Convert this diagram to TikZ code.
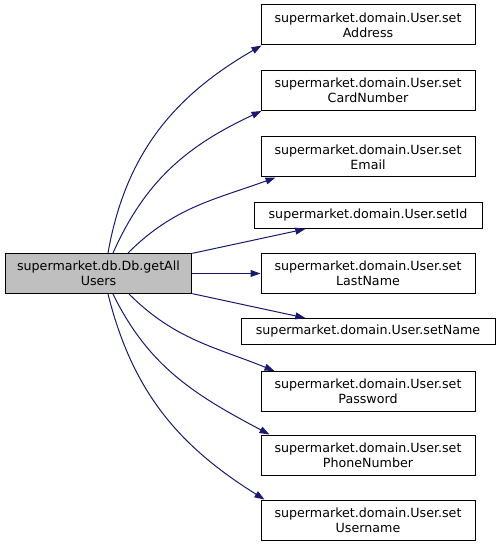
\documentclass[tikz,border=0pt]{standalone}
\usepackage{fontspec}
\setmainfont{DejaVu Sans}
\usetikzlibrary{arrows.meta,calc}
\definecolor{edgeblue}{HTML}{191970}
\definecolor{mainfill}{HTML}{BFBFBF}

\begin{document}
\begin{tikzpicture}[x=0.75pt, y=0.75pt,
  fn/.style={draw=black, line width=0.75pt, fill=white, align=center, inner sep=0pt,
    minimum height=30pt, font=\fontsize{9.5}{11.25}\selectfont},
  fnone/.style={fn, minimum height=19.5pt},
  edge/.style={draw=edgeblue, line width=0.75pt, -{Triangle[length=7.5pt,width=5.2pt]}}]
\useasboundingbox (0,0) rectangle (500,-548);
\node[fn, fill=mainfill, minimum width=140pt] (getall) at (98.5,-273.5) {supermarket.db.Db.getAll\\Users};
\node[fn, minimum width=160.5pt] (addr) at (368,-25) {supermarket.domain.User.set\\Address};
\node[fn, minimum width=160.5pt] (card) at (368,-90.5) {supermarket.domain.User.set\\CardNumber};
\node[fn, minimum width=160.5pt] (email) at (368,-157) {supermarket.domain.User.set\\Email};
\node[fnone, minimum width=171pt] (setid) at (368,-215.5) {supermarket.domain.User.setId};
\node[fn, minimum width=160.5pt] (lastname) at (368,-273.5) {supermarket.domain.User.set\\LastName};
\node[fnone, minimum width=190.5pt] (setname) at (368,-331.5) {supermarket.domain.User.setName};
\node[fn, minimum width=160.5pt] (password) at (368,-391.5) {supermarket.domain.User.set\\Password};
\node[fn, minimum width=160.5pt] (phone) at (368,-455) {supermarket.domain.User.set\\PhoneNumber};
\node[fn, minimum width=160.5pt] (username) at (368,-520) {supermarket.domain.User.set\\Username};
% calls
\draw[edge] ($(getall.north)+(9.5,0)$) to[out=80, in=210] ($(addr.south west)+(1,0)$);
\draw[edge] ($(getall.north)+(14.5,0)$) to[out=66, in=205] ($(card.south west)+(1,0)$);
\draw[edge] ($(getall.north)+(29.5,0)$) to[out=45, in=200] ($(email.south west)+(15,0)$);
\draw[edge] (getall) -- (setid);
\draw[edge] (getall) -- (lastname);
\draw[edge] (getall) -- (setname);
\draw[edge] ($(getall.south)+(30.5,0)$) to[out=-45, in=158] ($(password.north west)+(14,0)$);
\draw[edge] ($(getall.south)+(14.5,0)$) to[out=-64, in=152] ($(phone.north west)+(9,0)$);
\draw[edge] ($(getall.south)+(9.5,0)$) to[out=-76, in=148] ($(username.north west)+(4,0)$);
\end{tikzpicture}
\end{document}
